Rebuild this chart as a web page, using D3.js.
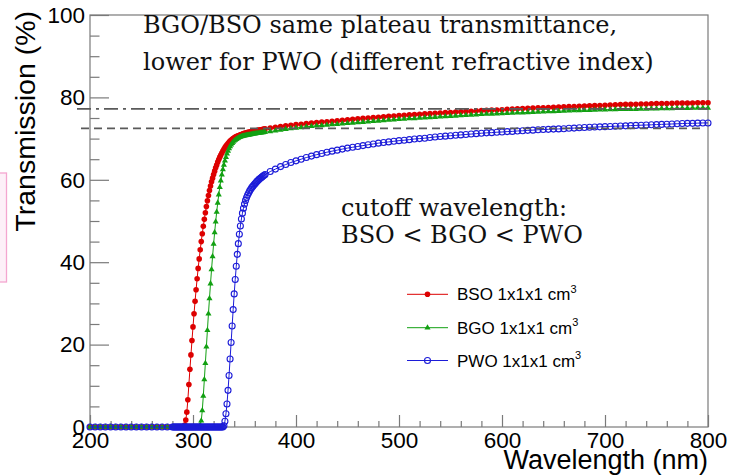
<!DOCTYPE html>
<html>
<head>
<meta charset="utf-8">
<script src="https://cdn.jsdelivr.net/npm/d3@7/dist/d3.min.js"></script>
<style>
  html, body { margin: 0; padding: 0; background: #fff; overflow: hidden; }
  svg { display: block; }
</style>
</head>
<body>
<svg id="chart" width="731" height="475"></svg>
<script>
// Sampling grid (nm): coarse in the dark region, 1 nm across the absorption edges, 5 nm on the plateau
const wavelength = [
  200,205,210,215,220,225,230,235,240,245,250,255,260,265,270,275,280,
  281,282,283,284,285,286,287,288,289,290,
  291,292,293,294,295,296,297,298,299,300,
  301,302,303,304,305,306,307,308,309,310,
  311,312,313,314,315,316,317,318,319,320,
  321,322,323,324,325,326,327,328,329,330,
  331,332,333,334,335,336,337,338,339,340,
  341,342,343,344,345,346,347,348,349,350,
  351,352,353,354,355,356,357,358,359,360,
  361,362,363,364,365,366,367,368,369,370,
  375,380,385,390,395,400,405,410,415,420,
  425,430,435,440,445,450,455,460,465,470,
  475,480,485,490,495,500,505,510,515,520,
  525,530,535,540,545,550,555,560,565,570,
  575,580,585,590,595,600,605,610,615,620,
  625,630,635,640,645,650,655,660,665,670,
  675,680,685,690,695,700,705,710,715,720,
  725,730,735,740,745,750,755,760,765,770,
  775,780,785,790,795,800
];

// Transmission (%) of the 1x1x1 cm3 samples
const bso = [
  0,0,0,0,0,0,0,0,0,0,0,0,0,0,0,0,0,
  0,0,0,0,0,0,0,0,0,0,0,
  0.5,1.7,3.6,6.6,10.3,14,17.5,21,24.3,27.5,
  30.5,33.3,36,38.5,40.8,43,45,46.9,48.7,50.4,
  52,53.5,54.9,56.2,57.4,58.5,59.5,60.4,61.3,62.1,
  62.9,63.6,64.3,64.9,65.5,66,66.5,67,67.4,67.8,
  68.2,68.5,68.8,69.1,69.4,69.6,69.8,70,70.2,70.35,
  70.5,70.6,70.7,70.8,70.9,71,71.1,71.2,71.3,71.35,
  71.4,71.5,71.55,71.6,71.65,71.7,71.75,71.8,71.85,71.9,
  71.95,72,72.05,72.1,72.15,72.2,72.25,72.3,72.35,
  72.55,72.75,72.95,73.1,73.25,73.4,73.5,73.65,73.8,73.9,
  74.0,74.1,74.2,74.3,74.45,74.55,74.7,74.8,74.9,75.0,
  75.1,75.2,75.3,75.4,75.5,75.6,75.65,75.75,75.85,75.9,
  76.0,76.05,76.15,76.2,76.3,76.35,76.45,76.5,76.6,76.65,
  76.75,76.8,76.85,76.9,76.95,77.0,77.1,77.15,77.25,77.3,
  77.35,77.4,77.45,77.5,77.55,77.6,77.65,77.7,77.75,77.8,
  77.85,77.9,77.95,78.0,78.05,78.1,78.15,78.2,78.25,78.3,
  78.3,78.35,78.4,78.4,78.45,78.5,78.5,78.5,78.55,78.6,
  78.6,78.6,78.65,78.7,78.7,78.7
];

const bgo = [
  0,0,0,0,0,0,0,0,0,0,0,0,0,0,0,0,0,
  0,0,0,0,0,0,0,0,0,0,
  0,0,0,0,0,0,0,0,0,0,
  0,0,0,0,0,0,
  0.5,1.5,4,7.5,11.5,15.5,19.5,23.5,27.5,31.2,
  34.8,38.2,41.4,44.4,47.2,49.8,52.2,54.4,56.4,58.2,
  59.8,61.2,62.5,63.6,64.6,65.5,66.3,67,67.6,68.1,
  68.5,68.9,69.2,69.45,69.65,69.85,70,70.15,70.3,70.4,
  70.5,70.6,70.65,70.7,70.75,70.8,70.85,70.9,70.95,71,
  71.05,71.1,71.15,71.2,71.25,71.3,71.3,71.35,71.4,71.45,
  71.5,71.5,71.55,71.6,
  71.7,71.9,72.1,72.3,72.45,72.6,72.7,72.85,73.0,73.1,
  73.2,73.3,73.4,73.5,73.6,73.7,73.8,73.9,74.0,74.1,
  74.2,74.3,74.4,74.5,74.6,74.7,74.75,74.85,74.9,75.0,
  75.05,75.15,75.2,75.3,75.35,75.45,75.5,75.6,75.65,75.75,
  75.8,75.9,75.95,76.0,76.05,76.1,76.15,76.2,76.25,76.3,
  76.35,76.4,76.45,76.5,76.55,76.6,76.65,76.7,76.75,76.8,
  76.85,76.9,76.9,76.95,77.0,77.0,77.05,77.05,77.1,77.1,
  77.15,77.15,77.2,77.2,77.25,77.25,77.3,77.3,77.3,77.35,
  77.35,77.35,77.4,77.4,77.4,77.4
];

const pwo = [
  0,0,0,0,0,0,0,0,0,0,0,0,0,0,0,0,0,
  0,0,0,0,0,0,0,0,0,0,
  0,0,0,0,0,0,0,0,0,0,
  0,0,0,0,0,0,0,0,0,0,
  0,0,0,0,0,0,0,0,0,0,
  0,0,0,0,0,0,0,0,0,
  0.3,1.4,3.2,5.6,8.9,12.5,16.5,20.5,24.5,28.5,
  32.3,35.8,39,41.9,44.5,46.8,48.8,50.5,51.9,53.1,
  54.1,55,55.7,56.3,56.8,57.3,57.7,58.1,58.4,58.7,
  59,59.3,59.6,59.8,60.1,60.3,60.5,60.7,60.9,61.1,
  61.3,
  62.0,62.6,63.2,63.7,64.2,64.6,65.0,65.4,65.75,66.1,
  66.4,66.7,66.95,67.2,67.45,67.7,67.9,68.1,68.3,68.5,
  68.7,68.9,69.05,69.2,69.35,69.5,69.6,69.75,69.9,70.0,
  70.1,70.25,70.4,70.5,70.6,70.7,70.8,70.9,71.0,71.1,
  71.2,71.3,71.4,71.45,71.55,71.6,71.7,71.75,71.85,71.9,
  72.0,72.05,72.15,72.2,72.25,72.3,72.35,72.4,72.5,72.55,
  72.65,72.7,72.75,72.8,72.85,72.9,72.95,73.0,73.05,73.1,
  73.15,73.2,73.25,73.3,73.35,73.4,73.45,73.5,73.55,73.6,
  73.65,73.7,73.7,73.75,73.8,73.8
];

const seriesNames = ["BSO", "BGO", "PWO"];
const legendLabels = ["BSO 1x1x1 cm", "BGO 1x1x1 cm", "PWO 1x1x1 cm"];
const xMajorTicks = [200, 300, 400, 500, 600, 700, 800];
const yMajorTicks = [0, 20, 40, 60, 80, 100];
const plateauLevels = [77.2, 72.5];   // dash-dot: BGO/BSO plateau, dashed: PWO plateau
const noteTop = ["BGO/BSO same plateau transmittance,", "lower for PWO (different refractive index)"];
const noteCutoff = ["cutoff wavelength:", "BSO < BGO < PWO"];

const svg = d3.select("#chart");
const frame = { left: 90, right: 708, top: 15, bottom: 427 };

const x = d3.scaleLinear().domain([200, 800]).range([frame.left, frame.right]);
const y = d3.scaleLinear().domain([0, 100]).range([frame.bottom, frame.top]);

const axisColor = "#7a7a7a";
const sansFont = "'Liberation Sans', Arial, Helvetica, sans-serif";
const serifFont = "'DejaVu Serif', serif";

// side marker on the left edge
svg.append("rect")
  .attr("x", -3).attr("y", 173).attr("width", 9.5).attr("height", 109)
  .attr("fill", "#fdf0f8").attr("stroke", "#f4a6d0").attr("stroke-width", 1.3);

// frame
svg.append("rect")
  .attr("x", frame.left).attr("y", frame.top)
  .attr("width", frame.right - frame.left).attr("height", frame.bottom - frame.top)
  .attr("fill", "none").attr("stroke", axisColor).attr("stroke-width", 1.2);

// x axis: minor ticks every 20 nm, majors every 100 nm, ticks drawn inward
const xMinor = d3.range(200, 801, 20).filter(v => !xMajorTicks.includes(v));
svg.append("g").attr("transform", `translate(0,${frame.bottom})`)
  .call(d3.axisBottom(x).tickValues(xMinor).tickSize(-6).tickFormat(""))
  .call(g => g.select(".domain").remove())
  .call(g => g.selectAll("line").attr("stroke", axisColor).attr("stroke-width", 1.2));
const gx = svg.append("g").attr("transform", `translate(0,${frame.bottom})`)
  .call(d3.axisBottom(x).tickValues(xMajorTicks).tickSize(-12).tickPadding(5).tickFormat(d3.format("d")));
gx.select(".domain").remove();
gx.selectAll("line").attr("stroke", axisColor).attr("stroke-width", 1.2);
gx.selectAll("text").attr("font-family", sansFont).attr("font-size", 22.5).attr("fill", "#000");

// y axis: minor every 5 %, majors every 20 %
const yMinor = d3.range(0, 101, 5).filter(v => !yMajorTicks.includes(v));
svg.append("g").attr("transform", `translate(${frame.left},0)`)
  .call(d3.axisLeft(y).tickValues(yMinor).tickSize(-9.5).tickFormat(""))
  .call(g => g.select(".domain").remove())
  .call(g => g.selectAll("line").attr("stroke", axisColor).attr("stroke-width", 1.2));
const gy = svg.append("g").attr("transform", `translate(${frame.left},0)`)
  .call(d3.axisLeft(y).tickValues(yMajorTicks).tickSize(-19).tickPadding(5).tickFormat(d3.format("d")));
gy.select(".domain").remove();
gy.selectAll("line").attr("stroke", axisColor).attr("stroke-width", 1.2);
gy.selectAll("text").attr("font-family", sansFont).attr("font-size", 22.5).attr("fill", "#000");

// axis titles
svg.append("text")
  .attr("x", frame.right).attr("y", 469)
  .attr("text-anchor", "end")
  .attr("font-family", sansFont).attr("font-size", 27)
  .attr("fill", "#000")
  .text("Wavelength (nm)");
svg.append("text")
  .attr("transform", `translate(35,${frame.top - 4}) rotate(-90)`)
  .attr("text-anchor", "end")
  .attr("font-family", sansFont).attr("font-size", 28.5)
  .attr("fill", "#000")
  .text("Transmission (%)");

// curves
const series = [
  { name: seriesNames[0], values: bso, color: "#dd0000", marker: "dot" },
  { name: seriesNames[1], values: bgo, color: "#12a012", marker: "triangle" },
  { name: seriesNames[2], values: pwo, color: "#1c1cd8", marker: "circle" }
];

const line = d3.line().x(d => x(d[0])).y(d => y(d[1]));
const triangle = d3.symbol().type(d3.symbolTriangle).size(16);

function drawMarker(sel, s) {
  if (s.marker === "dot") {
    sel.append("circle").attr("r", 2.8).attr("fill", s.color);
  } else if (s.marker === "triangle") {
    sel.append("path").attr("d", triangle).attr("fill", s.color);
  } else {
    sel.append("circle").attr("r", 3).attr("fill", "none")
      .attr("stroke", s.color).attr("stroke-width", 1.1);
  }
}

series.forEach(s => {
  const pts = wavelength.map((w, i) => [w, s.values[i]]);
  const g = svg.append("g").attr("class", "series-" + s.name);
  g.append("path").attr("d", line(pts))
    .attr("fill", "none").attr("stroke", s.color).attr("stroke-width", 1);
  g.selectAll("g.m").data(pts).join("g").attr("class", "m")
    .attr("transform", d => `translate(${x(d[0])},${y(d[1])})`)
    .each(function () { drawMarker(d3.select(this), s); });
});

// plateau reference lines
svg.append("line")
  .attr("x1", 77).attr("x2", frame.right)
  .attr("y1", y(plateauLevels[0])).attr("y2", y(plateauLevels[0]))
  .attr("stroke", "#5a5a5a").attr("stroke-width", 1.8).attr("stroke-dasharray", "14,5,3,5");
svg.append("line")
  .attr("x1", 81).attr("x2", frame.right - 6)
  .attr("y1", y(plateauLevels[1])).attr("y2", y(plateauLevels[1]))
  .attr("stroke", "#5a5a5a").attr("stroke-width", 1.8).attr("stroke-dasharray", "8,5");

// legend
const legendY = [294.3, 327.7, 360.5];
series.forEach((s, i) => {
  const g = svg.append("g").attr("transform", `translate(0,${legendY[i]})`);
  g.append("line").attr("x1", 407).attr("x2", 448).attr("y1", 0).attr("y2", 0)
    .attr("stroke", s.color).attr("stroke-width", 1);
  const m = g.append("g").attr("transform", "translate(427.5,0)");
  drawMarker(m, s);
  const t = g.append("text").attr("x", 457).attr("y", 6)
    .attr("font-family", sansFont).attr("font-size", 17).attr("fill", "#000");
  t.append("tspan").text(legendLabels[i]);
  t.append("tspan").attr("dy", -7.5).attr("font-size", 11).text("3");
});

// annotations
svg.append("g").selectAll("text").data(noteTop).join("text")
  .attr("x", 143).attr("y", (d, i) => 33 + i * 37)
  .attr("font-family", serifFont).attr("font-size", 24).attr("fill", "#111")
  .text(d => d);
svg.append("g").selectAll("text").data(noteCutoff).join("text")
  .attr("x", 341).attr("y", (d, i) => 216 + i * 27.3)
  .attr("font-family", serifFont).attr("font-size", 24).attr("fill", "#111")
  .text(d => d);
</script>
</body>
</html>
